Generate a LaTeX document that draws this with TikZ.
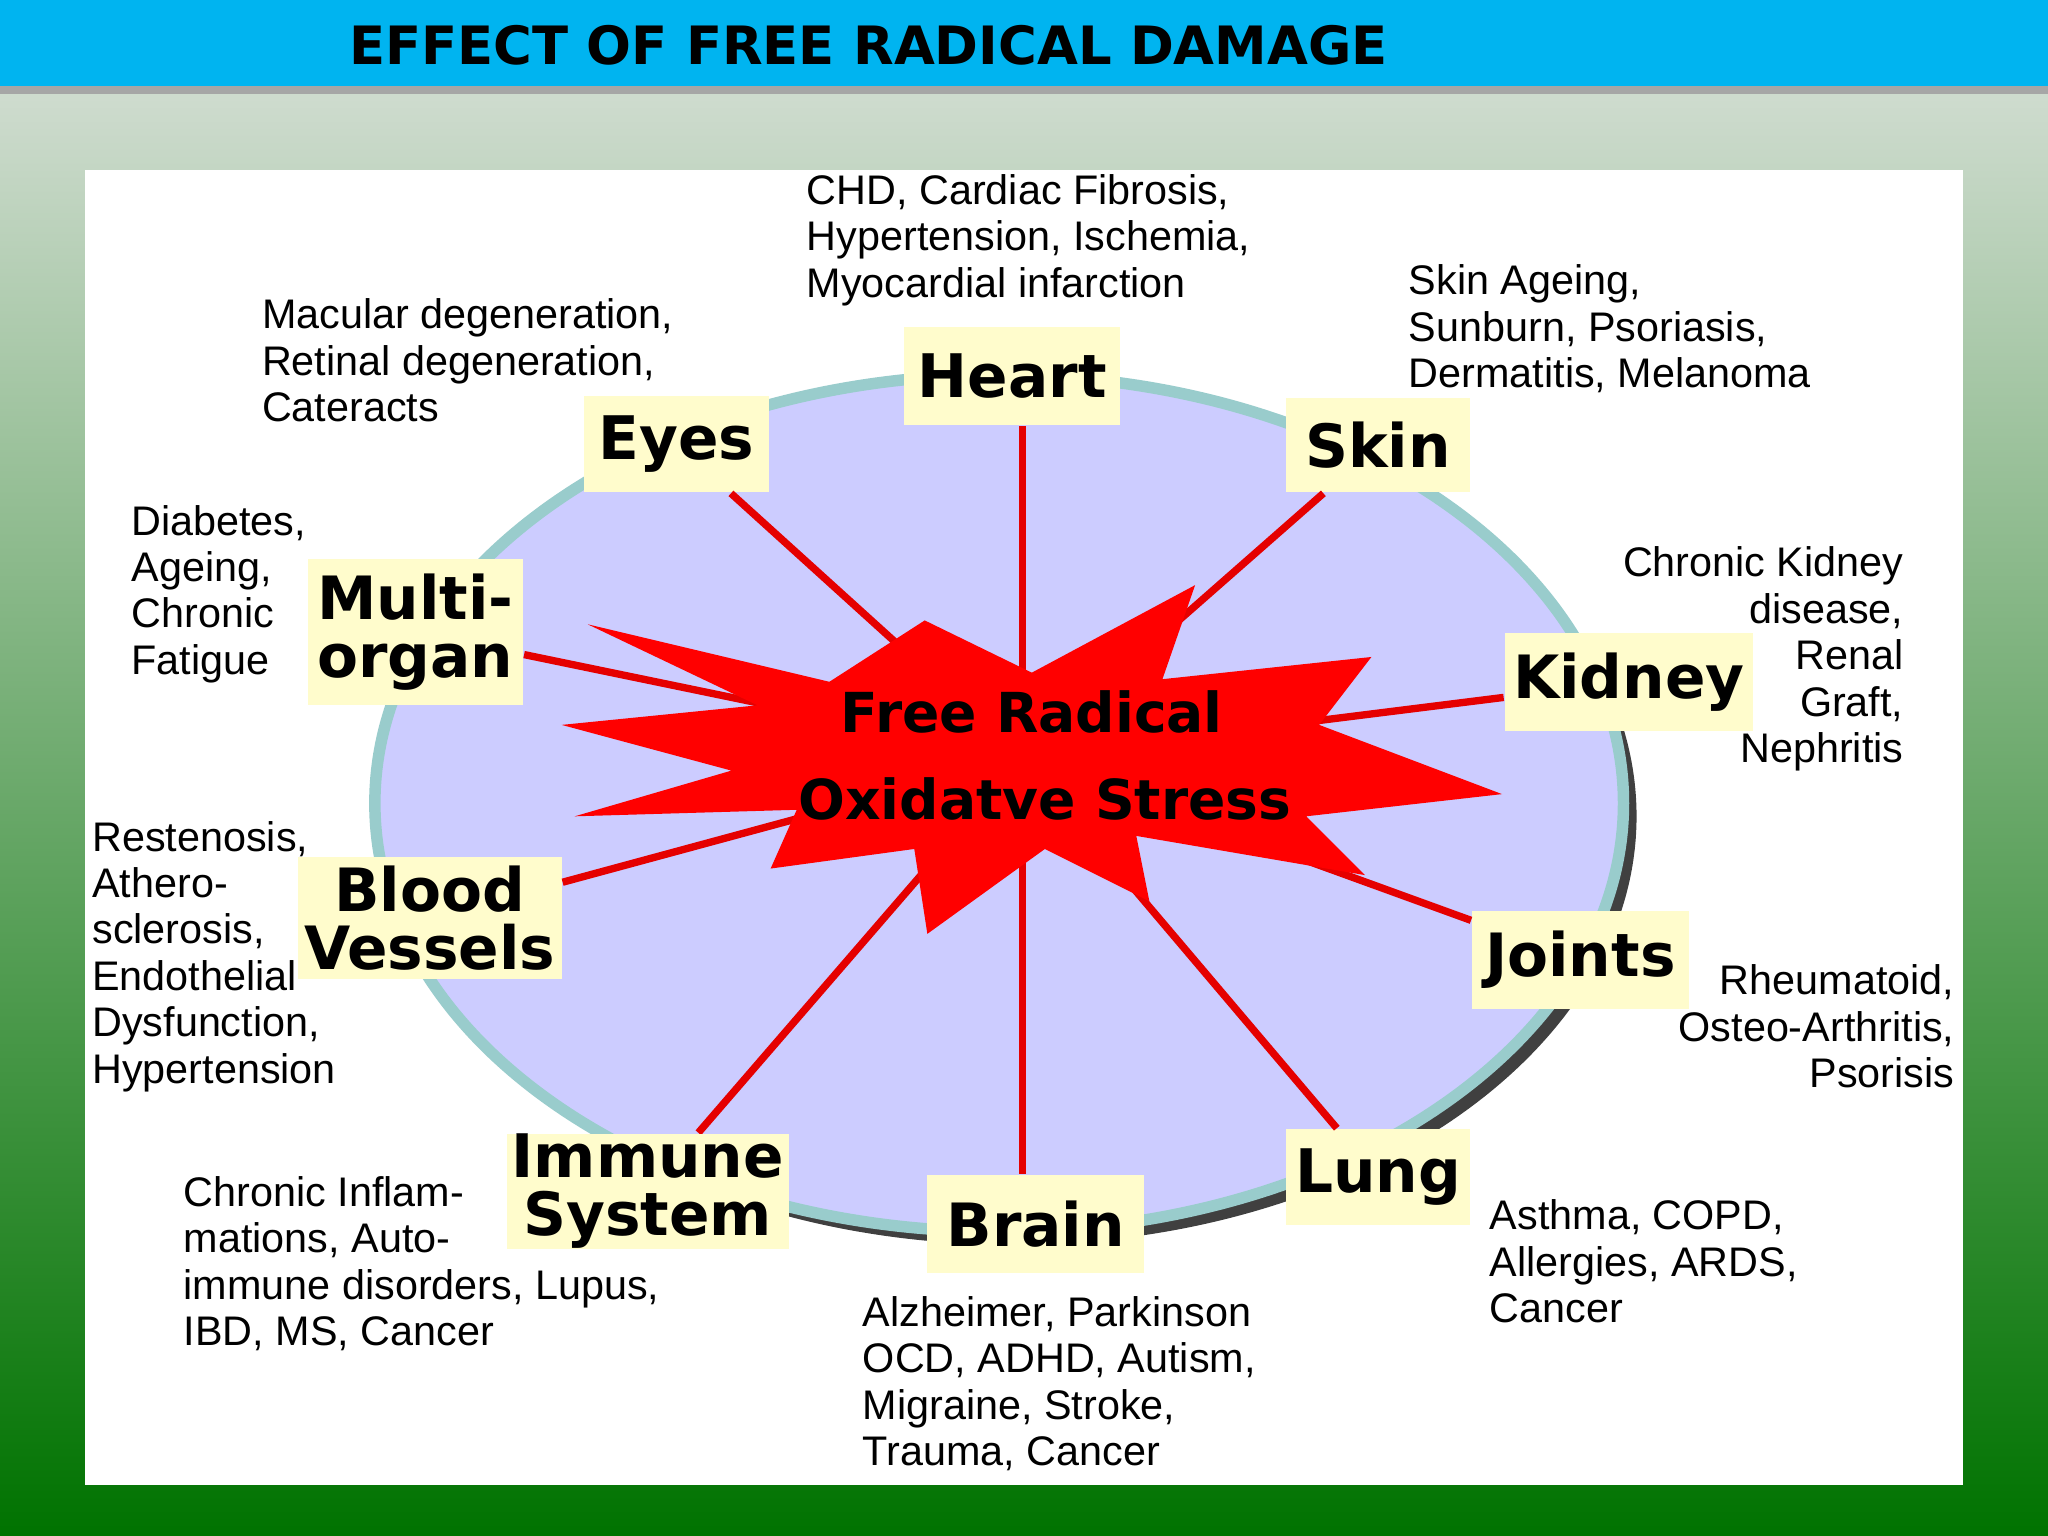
\documentclass[tikz,border=0pt]{standalone}
\usepackage{fontspec}
\setmainfont{Liberation Sans}
\newfontfamily\lbl{DejaVu Sans}
\definecolor{bar}{RGB}{0,180,240}
\begin{document}
\begin{tikzpicture}[x=0.01cm,y=-0.01cm,
  lbl/.style={fill=yellow!20,inner sep=0pt,align=center,font=\lbl\fontsize{13}{12.5}\selectfont\bfseries,text=black},
  note/.style={anchor=north west,align=left,inner sep=0pt,font=\fontsize{9}{10.1}\selectfont},
  noter/.style={anchor=north east,align=right,inner sep=0pt,font=\fontsize{9}{10.1}\selectfont},
  link/.style={red!90!black,line width=1.6pt}]
\useasboundingbox (0,0) rectangle (1568,1176);
\shade[top color=green!10!gray!25!white,bottom color=green!45!black] (0,0) rectangle (1568,1176);
\fill[black!35] (0,60) rectangle (1568,72);
\fill[bar] (0,0) rectangle (1568,66);
\node[font=\lbl\fontsize{11.5}{12}\selectfont\bfseries] (title) at (665,35) {EFFECT OF FREE RADICAL DAMAGE};
\fill[white] (65,130) rectangle (1503,1137);
\fill[black!75] (775,625) ellipse (478 and 328);
\fill[blue!20,draw=teal!40,line width=2.5pt] (765,615) ellipse (478 and 328);
\coordinate (c) at (783,580);
\node[lbl,minimum width=1.65cm,minimum height=0.75cm] (heart) at (775,288) {Heart};
\node[lbl,minimum width=1.41cm,minimum height=0.74cm] (eyes) at (518,340) {Eyes};
\node[lbl,minimum width=1.41cm,minimum height=0.72cm] (skin) at (1055,341) {Skin};
\node[lbl,minimum width=1.65cm,minimum height=1.12cm] (multi) at (318,484) {Multi-\\organ};
\node[lbl,minimum width=1.90cm,minimum height=0.75cm] (kidney) at (1247,522) {Kidney};
\node[lbl,minimum width=2.02cm,minimum height=0.93cm] (blood) at (329,703) {Blood\\Vessels};
\node[lbl,minimum width=1.66cm,minimum height=0.75cm] (joints) at (1210,735) {Joints};
\node[lbl,minimum width=2.16cm,minimum height=0.88cm] (immune) at (496,912) {Immune\\System};
\node[lbl,minimum width=1.66cm,minimum height=0.75cm] (brain) at (793,937) {Brain};
\node[lbl,minimum width=1.41cm,minimum height=0.73cm] (lung) at (1055,901) {Lung};
\draw[link] (c) -- (heart.south -| c);
\draw[link] (c) -- (brain.north -| c);
\foreach \n in {eyes,skin,multi,kidney,blood,joints,immune,lung}
  \draw[link] (c) -- (\n);
\fill[red] (450,478) -- (635,522) -- (708,475) -- (790,515) -- (915,448) -- (890,520) -- (1050,503) -- (1010,555) -- (1150,608) -- (1000,625) -- (1045,670) -- (870,640) -- (880,690) -- (800,650) -- (710,715) -- (700,650) -- (590,665) -- (610,620) -- (440,625) -- (560,590) -- (430,555) -- (580,540) -- cycle;
\node[font=\lbl\fontsize{12}{12}\selectfont\bfseries] (fr) at (790,545) {Free Radical};
\node[font=\lbl\fontsize{12}{12}\selectfont\bfseries] (os) at (800,612) {Oxidatve Stress};
\foreach \n/\t in {heart/Heart,eyes/Eyes,skin/Skin,kidney/Kidney,joints/Joints,brain/Brain,lung/Lung}
  \node[lbl,minimum width=0pt] at (\n) {\t};
\node[lbl] at (multi) {Multi-\\organ};
\node[lbl] at (blood) {Blood\\Vessels};
\node[lbl] at (immune) {Immune\\System};
\node[note] (n1) at (617,133) {CHD, Cardiac Fibrosis,\\Hypertension, Ischemia,\\Myocardial infarction};
\node[note] (n2) at (200,228) {Macular degeneration,\\Retinal degeneration,\\Cateracts};
\node[note] (n3) at (1078,202) {Skin Ageing,\\Sunburn, Psoriasis,\\Dermatitis, Melanoma};
\node[note] (n4) at (100,386) {Diabetes,\\Ageing,\\Chronic\\Fatigue};
\node[noter] (n5) at (1458,418) {Chronic Kidney\\disease,\\Renal\\Graft,\\Nephritis};
\node[note] (n6) at (70,628) {Restenosis,\\Athero-\\sclerosis,\\Endothelial\\Dysfunction,\\Hypertension};
\node[noter] (n7) at (1497,738) {Rheumatoid,\\Osteo-Arthritis,\\Psorisis};
\node[note] (n8) at (140,900) {Chronic Inflam-\\mations, Auto-\\immune disorders, Lupus,\\IBD, MS, Cancer};
\node[note] (n9) at (660,992) {Alzheimer, Parkinson\\OCD, ADHD, Autism,\\Migraine, Stroke,\\Trauma, Cancer};
\node[note] (n10) at (1140,918) {Asthma, COPD,\\Allergies, ARDS,\\Cancer};
\end{tikzpicture}
\end{document}
